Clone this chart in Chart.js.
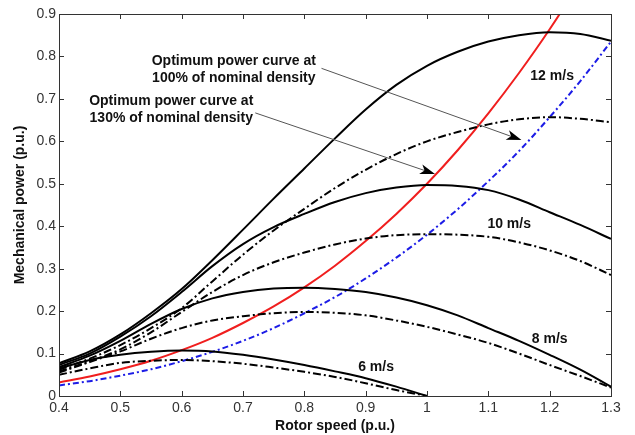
<!DOCTYPE html>
<html>
<head>
<meta charset="utf-8">
<script src="https://cdn.jsdelivr.net/npm/chart.js@4.4.1/dist/chart.umd.min.js"></script>
<style>
  html, body { margin: 0; padding: 0; background: #fff; }
</style>
</head>
<body>
<canvas id="chart" width="635" height="435"></canvas>
<script>
// rotor speed (p.u.) sampled every 0.05
const rotorSpeed = [0.40, 0.45, 0.50, 0.55, 0.60, 0.65, 0.70, 0.75, 0.80, 0.85, 0.90, 0.95, 1.00, 1.05, 1.10, 1.15, 1.20, 1.25, 1.30];

// mechanical power (p.u.), solid curves
const wind12 = [0.077, 0.105, 0.145, 0.195, 0.252, 0.320, 0.392, 0.465, 0.536, 0.607, 0.675, 0.733, 0.778, 0.811, 0.835, 0.850, 0.857, 0.853, 0.837];
const wind10 = [0.073, 0.100, 0.140, 0.188, 0.245, 0.306, 0.358, 0.398, 0.429, 0.457, 0.478, 0.491, 0.497, 0.495, 0.485, 0.463, 0.433, 0.403, 0.370];
const wind8  = [0.068, 0.095, 0.130, 0.170, 0.205, 0.230, 0.245, 0.253, 0.255, 0.252, 0.245, 0.232, 0.214, 0.190, 0.160, 0.130, 0.097, 0.062, 0.022];
const wind6  = [0.065, 0.085, 0.097, 0.104, 0.107, 0.105, 0.097, 0.086, 0.073, 0.058, 0.042, 0.022, 0.000, null, null, null, null, null, null];

// dash-dot curves
const wind12b = [0.062, 0.088, 0.120, 0.160, 0.207, 0.270, 0.333, 0.390, 0.441, 0.490, 0.533, 0.570, 0.600, 0.622, 0.640, 0.652, 0.657, 0.653, 0.645];
const wind10b = [0.058, 0.082, 0.110, 0.150, 0.198, 0.245, 0.285, 0.315, 0.338, 0.357, 0.371, 0.379, 0.381, 0.380, 0.375, 0.362, 0.343, 0.318, 0.285];
const wind8b  = [0.055, 0.080, 0.105, 0.135, 0.160, 0.178, 0.188, 0.195, 0.198, 0.196, 0.190, 0.178, 0.163, 0.145, 0.125, 0.100, 0.073, 0.047, 0.020];
const wind6b  = [0.050, 0.065, 0.078, 0.083, 0.085, 0.082, 0.076, 0.067, 0.057, 0.045, 0.030, 0.014, 0.000, null, null, null, null, null, null];

// optimum power curves
const optRed  = [0.032, 0.046, 0.063, 0.083, 0.108, 0.137, 0.172, 0.211, 0.256, 0.307, 0.365, 0.429, 0.500, 0.579, 0.666, 0.761, 0.864, 0.977, 1.098];
const optBlue = [0.025, 0.035, 0.048, 0.063, 0.082, 0.104, 0.130, 0.160, 0.195, 0.233, 0.277, 0.326, 0.380, 0.440, 0.506, 0.577, 0.657, 0.742, 0.835];

const xTicks = [0.4, 0.5, 0.6, 0.7, 0.8, 0.9, 1.0, 1.1, 1.2, 1.3];
const yTicks = [0, 0.1, 0.2, 0.3, 0.4, 0.5, 0.6, 0.7, 0.8, 0.9];

const speedLabels = ['12 m/s', '10 m/s', '8 m/s', '6 m/s'];
const speedLabelAt = [[1.204, 0.754], [1.134, 0.406], [1.200, 0.135], [0.917, 0.069]];

const noteLines = [
    ['Optimum power curve at', '100% of nominal density'],
    ['Optimum power curve at', '130% of nominal density']
];
const noteAt = [[0.685, 0.790], [0.583, 0.694]];
const arrowFrom = [[0.828, 0.772], [0.720, 0.667]];
const arrowTo = [[1.154, 0.603], [1.013, 0.523]];

const FONT = "'Liberation Sans', Arial, sans-serif";
const DASH_DOT = [8, 3, 2, 3];

const toPoints = (ys) => rotorSpeed
    .map((x, i) => ({ x: x, y: ys[i] }))
    .filter(p => p.y !== null);

const curve = (ys, color, dash) => ({
    data: toPoints(ys),
    borderColor: color,
    borderWidth: 2,
    borderDash: dash || [],
    pointRadius: 0,
    fill: false,
    cubicInterpolationMode: 'monotone'
});

const datasets = [
    curve(wind12, '#000'),
    curve(wind10, '#000'),
    curve(wind8, '#000'),
    curve(wind6, '#000'),
    curve(wind12b, '#000', DASH_DOT),
    curve(wind10b, '#000', DASH_DOT),
    curve(wind8b, '#000', DASH_DOT),
    curve(wind6b, '#000', DASH_DOT),
    curve(optRed, '#f01e1e'),
    curve(optBlue, '#1c1ce6', [6, 3, 2, 3])
];

const drawArrow = (ctx, x0, y0, x1, y1) => {
    const ang = Math.atan2(y1 - y0, x1 - x0);
    const len = 15, half = 5;
    ctx.strokeStyle = '#555';
    ctx.lineWidth = 1;
    ctx.beginPath();
    ctx.moveTo(x0, y0);
    ctx.lineTo(x1 - Math.cos(ang) * 6, y1 - Math.sin(ang) * 6);
    ctx.stroke();
    ctx.fillStyle = '#000';
    ctx.beginPath();
    ctx.moveTo(x1, y1);
    ctx.lineTo(x1 - Math.cos(ang) * len - Math.sin(ang) * half, y1 - Math.sin(ang) * len + Math.cos(ang) * half);
    ctx.lineTo(x1 - Math.cos(ang) * (len - 4), y1 - Math.sin(ang) * (len - 4));
    ctx.lineTo(x1 - Math.cos(ang) * len + Math.sin(ang) * half, y1 - Math.sin(ang) * len - Math.cos(ang) * half);
    ctx.closePath();
    ctx.fill();
};

// frame, inward ticks, labels and arrows
const framePlugin = {
    id: 'framePlugin',
    afterDatasetsDraw(chart) {
        const { ctx, chartArea: a, scales: { x, y } } = chart;
        ctx.save();
        ctx.strokeStyle = '#333';
        ctx.lineWidth = 1;
        ctx.strokeRect(Math.round(a.left) + 0.5, Math.round(a.top) + 0.5, Math.round(a.right - a.left), Math.round(a.bottom - a.top));

        ctx.beginPath();
        xTicks.forEach(v => {
            const px = Math.round(x.getPixelForValue(v)) + 0.5;
            ctx.moveTo(px, a.bottom); ctx.lineTo(px, a.bottom - 5);
            ctx.moveTo(px, a.top); ctx.lineTo(px, a.top + 5);
        });
        yTicks.forEach(v => {
            const py = Math.round(y.getPixelForValue(v)) + 0.5;
            ctx.moveTo(a.left, py); ctx.lineTo(a.left + 5, py);
            ctx.moveTo(a.right, py); ctx.lineTo(a.right - 5, py);
        });
        ctx.stroke();

        ctx.fillStyle = '#111';
        ctx.textAlign = 'center';
        ctx.textBaseline = 'middle';
        ctx.font = `bold 14px ${FONT}`;
        speedLabels.forEach((t, i) => {
            ctx.fillText(t, x.getPixelForValue(speedLabelAt[i][0]), y.getPixelForValue(speedLabelAt[i][1]));
        });

        noteLines.forEach((lines, i) => {
            const cx = x.getPixelForValue(noteAt[i][0]);
            const cy = y.getPixelForValue(noteAt[i][1]);
            lines.forEach((t, j) => ctx.fillText(t, cx, cy + j * 17));
        });

        arrowFrom.forEach((p, i) => {
            drawArrow(ctx,
                x.getPixelForValue(p[0]), y.getPixelForValue(p[1]),
                x.getPixelForValue(arrowTo[i][0]), y.getPixelForValue(arrowTo[i][1]));
        });
        ctx.restore();
    }
};

const tickLabel = (v) => String(Math.round(v * 10) / 10);

new Chart(document.getElementById('chart'), {
    type: 'line',
    data: { datasets: datasets },
    plugins: [framePlugin],
    options: {
        responsive: false,
        animation: false,
        layout: { padding: { top: 14, right: 24, left: 0, bottom: 0 } },
        plugins: { legend: { display: false }, tooltip: { enabled: false } },
        scales: {
            x: {
                type: 'linear',
                min: 0.4,
                max: 1.3,
                afterFit: (s) => { s.height = 39; },
                afterBuildTicks: (s) => { s.ticks = xTicks.map(v => ({ value: v })); },
                grid: { display: false, drawTicks: false },
                border: { display: false },
                ticks: { padding: 4, color: '#333', font: { family: FONT, size: 14 }, callback: tickLabel },
                title: { display: true, text: 'Rotor speed (p.u.)', color: '#111', padding: { top: 0, bottom: 0 }, font: { family: FONT, size: 14, weight: 'bold' } }
            },
            y: {
                min: 0,
                max: 0.9,
                afterFit: (s) => { s.width = 59; },
                afterBuildTicks: (s) => { s.ticks = yTicks.map(v => ({ value: v })); },
                grid: { display: false, drawTicks: false },
                border: { display: false },
                ticks: { padding: 3, color: '#333', font: { family: FONT, size: 14 }, callback: tickLabel },
                title: { display: true, text: 'Mechanical power (p.u.)', color: '#111', padding: { top: 12, bottom: 0 }, font: { family: FONT, size: 14, weight: 'bold' } }
            }
        }
    }
});
</script>
</body>
</html>
